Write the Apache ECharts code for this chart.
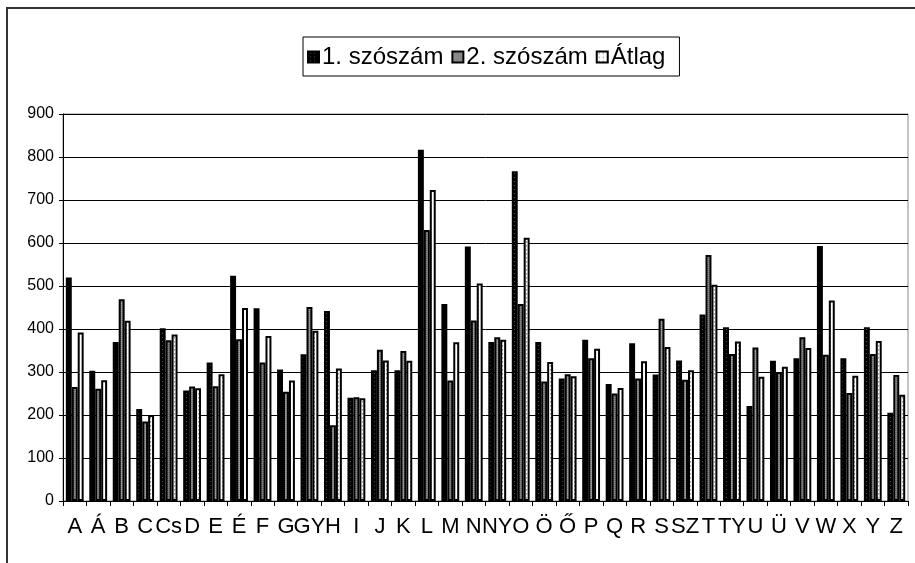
<!DOCTYPE html>
<html>
<head>
<meta charset="utf-8">
<title>Szószám betűnként</title>
<script src="https://cdn.jsdelivr.net/npm/echarts@6/dist/echarts.min.js"></script>
<style>
  html, body { margin: 0; padding: 0; background: #fff; }
  #chart { width: 915px; height: 563px; }
</style>
</head>
<body>
<div id="chart"></div>
<script>
// Kezdőbetűk
const letters = ['A','Á','B','C','Cs','D','E','É','F','G','GY','H','I','J','K','L','M','N','NY','O','Ö','Ő','P','Q','R','S','SZ','T','TY','U','Ü','V','W','X','Y','Z'];

// 1. szószám
const first = [520,303,370,214,402,257,322,524,448,306,341,442,240,304,304,817,458,592,370,767,370,285,375,272,367,294,327,434,404,221,326,332,593,332,404,205];

// 2. szószám
const second = [265,261,469,185,374,266,267,376,322,254,451,176,241,352,349,630,280,420,381,458,278,295,332,250,285,424,282,572,342,357,300,381,340,251,342,293];

// Átlag
const average = [392,281,419,200,387,262,295,449,384,280,396,308,239,327,326,723,369,506,375,612,323,290,354,263,325,358,304,503,371,289,312,356,466,291,372,247];

const yTicks = { min: 0, max: 900, step: 100 };

// small repeating textures for the bar fills
function pattern(size, base, dots) {
  const c = document.createElement('canvas');
  c.width = size; c.height = size;
  const g = c.getContext('2d');
  g.fillStyle = base;
  g.fillRect(0, 0, size, size);
  dots.forEach(d => { g.fillStyle = d[2]; g.fillRect(d[0], d[1], 1, 1); });
  return { image: c, repeat: 'repeat' };
}
const darkFill = pattern(4, '#000', [[2, 1, '#555']]);
const greyFill = pattern(2, '#8a8a8a', [[0, 0, '#6a6a6a'], [1, 1, '#a0a0a0']]);
const lightFill = pattern(4, '#fff', [[2, 1, '#999'], [2, 2, '#bbb']]);

const font = '"Liberation Sans", Arial, sans-serif';

function barSeries(name, data, fill) {
  return {
    name: name,
    type: 'bar',
    data: data,
    barGap: '0%',
    barCategoryGap: '24%',
    itemStyle: { color: fill, borderColor: '#000', borderWidth: 2 },
    emphasis: { disabled: true },
    animation: false
  };
}

const chart = echarts.init(document.getElementById('chart'), null, { renderer: 'canvas' });
chart.setOption({
  backgroundColor: '#fff',
  animation: false,
  graphic: [{
    type: 'rect',
    shape: { x: 7, y: 8, width: 940, height: 600 },
    style: { fill: 'none', stroke: '#333', lineWidth: 2 },
    silent: true
  }],
  legend: {
    left: 303,
    top: 37,
    padding: [8, 14, 7, 4],
    itemGap: 8,
    itemWidth: 11,
    itemHeight: 11,
    icon: 'rect',
    borderColor: '#000',
    borderWidth: 1,
    textStyle: { fontFamily: font, fontSize: 24, color: '#000', padding: [0, 0, 0, -2] },
    data: ['1. szószám', '2. szószám', 'Átlag']
  },
  grid: {
    left: 63, right: 7, top: 114, bottom: 62,
    show: true, borderColor: '#888', borderWidth: 1, backgroundColor: 'transparent'
  },
  xAxis: {
    type: 'category',
    data: letters,
    axisLine: { lineStyle: { color: '#000', width: 1 } },
    axisTick: { show: true, length: 5, lineStyle: { color: '#000' } },
    axisLabel: { interval: 0, fontFamily: font, fontSize: 22, color: '#000', margin: 15 }
  },
  yAxis: {
    type: 'value',
    min: yTicks.min,
    max: yTicks.max,
    interval: yTicks.step,
    axisLine: { show: true, lineStyle: { color: '#000', width: 1 } },
    axisTick: { show: true, length: 4, lineStyle: { color: '#000' } },
    axisLabel: { fontFamily: font, fontSize: 16, color: '#000', margin: 9 },
    splitLine: { lineStyle: { color: '#000', width: 1 } }
  },
  series: [
    barSeries('1. szószám', first, darkFill),
    barSeries('2. szószám', second, greyFill),
    barSeries('Átlag', average, lightFill)
  ]
});
</script>
</body>
</html>
